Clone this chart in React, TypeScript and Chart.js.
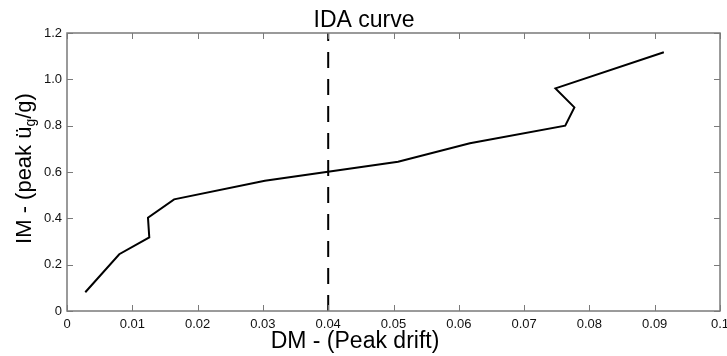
import React, { useEffect, useRef } from "react";
import { Chart, registerables } from "chart.js";

Chart.register(...registerables);

// ---- data ----
const driftValues = [0.0028, 0.008, 0.0126, 0.0124, 0.0164, 0.0303, 0.0507, 0.0617, 0.0763, 0.0777, 0.0748, 0.0914];
const imValues = [0.081, 0.245, 0.318, 0.403, 0.482, 0.562, 0.644, 0.724, 0.8, 0.879, 0.961, 1.117];
const limitDrift = 0.04;
const limitIm = [0, 1.2];

const xTickValues = [0, 0.01, 0.02, 0.03, 0.04, 0.05, 0.06, 0.07, 0.08, 0.09, 0.1];
const xTickLabels = ["0", "0.01", "0.02", "0.03", "0.04", "0.05", "0.06", "0.07", "0.08", "0.09", "0.1"];
const yTickValues = [0, 0.2, 0.4, 0.6, 0.8, 1.0, 1.2];
const yTickLabels = ["0", "0.2", "0.4", "0.6", "0.8", "1.0", "1.2"];

const chartTitle = "IDA curve";
const xTitle = "DM - (Peak drift)";
const yTitleParts = ["IM - (peak ü", "g", "/g)"];

const FONT = '"Liberation Sans", Arial, Helvetica, sans-serif';

const framePlugin = {
  id: "frame",
  afterDatasetsDraw(chart: any) {
    const { ctx, chartArea, scales } = chart;
    const { left, right, top, bottom } = chartArea;
    const x = scales.x;
    const y = scales.y;
    ctx.save();
    ctx.strokeStyle = "#7a7a7a";
    ctx.lineWidth = 1.5;
    ctx.strokeRect(left, top, right - left, bottom - top);
    ctx.lineWidth = 1;
    const L = 6;
    ctx.beginPath();
    xTickValues.forEach((v) => {
      const px = Math.round(x.getPixelForValue(v)) + 0.5;
      ctx.moveTo(px, bottom);
      ctx.lineTo(px, bottom - L);
      ctx.moveTo(px, top);
      ctx.lineTo(px, top + L);
    });
    yTickValues.forEach((v) => {
      const py = Math.round(y.getPixelForValue(v)) + 0.5;
      ctx.moveTo(left, py);
      ctx.lineTo(left + L, py);
      ctx.moveTo(right, py);
      ctx.lineTo(right - L, py);
    });
    ctx.stroke();
    ctx.restore();
  },
  afterDraw(chart: any) {
    const { ctx } = chart;
    ctx.save();
    ctx.fillStyle = "#000";
    // title
    ctx.font = `23px ${FONT}`;
    ctx.textAlign = "center";
    ctx.textBaseline = "alphabetic";
    ctx.fillText(chartTitle, 364, 27);
    // x title
    ctx.fillText(xTitle, 355, 348);
    // y title (rotated, with subscript)
    ctx.translate(31, 168.5);
    ctx.rotate(-Math.PI / 2);
    ctx.textAlign = "left";
    const big = `22px ${FONT}`;
    const small = `14px ${FONT}`;
    ctx.font = big;
    const w0 = ctx.measureText(yTitleParts[0]).width;
    const w2 = ctx.measureText(yTitleParts[2]).width;
    ctx.font = small;
    const w1 = ctx.measureText(yTitleParts[1]).width;
    let cx = -(w0 + w1 + w2) / 2;
    ctx.font = big;
    ctx.fillText(yTitleParts[0], cx, 0);
    cx += w0;
    ctx.font = small;
    ctx.fillText(yTitleParts[1], cx, 4);
    cx += w1;
    ctx.font = big;
    ctx.fillText(yTitleParts[2], cx, 0);
    ctx.restore();
  },
};

export default function App() {
  const ref = useRef<HTMLCanvasElement | null>(null);

  useEffect(() => {
    document.body.style.margin = "0";
    const canvas = ref.current;
    if (!canvas) return;
    const chart = new Chart(canvas, {
      type: "scatter",
      data: {
        datasets: [
          {
            label: "IDA",
            data: driftValues.map((d, i) => ({ x: d, y: imValues[i] })),
            showLine: true,
            borderColor: "#000",
            borderWidth: 2,
            pointRadius: 0,
            tension: 0,
            fill: false,
          },
          {
            label: "limit",
            data: limitIm.map((v) => ({ x: limitDrift, y: v })),
            showLine: true,
            borderColor: "#000",
            borderWidth: 2,
            borderDash: [16, 11],
            pointRadius: 0,
            fill: false,
          },
        ],
      },
      options: {
        animation: false,
        responsive: false,
        devicePixelRatio: 1,
        layout: { padding: { top: 33, right: 7, left: 0, bottom: 0 } },
        plugins: {
          legend: { display: false },
          tooltip: { enabled: false },
          title: { display: false },
        },
        scales: {
          x: {
            type: "linear",
            min: 0,
            max: 0.1,
            grid: { display: false, drawTicks: false },
            border: { display: false },
            afterBuildTicks: (s: any) => {
              s.ticks = xTickValues.map((v) => ({ value: v }));
            },
            afterFit: (s: any) => {
              s.height = 45;
              s.paddingLeft = 0;
              s.paddingRight = 0;
            },
            ticks: {
              autoSkip: false,
              maxRotation: 0,
              padding: 6,
              color: "#111",
              font: { family: FONT, size: 13 },
              callback: (_v: any, i: number) => xTickLabels[i],
            },
          },
          y: {
            type: "linear",
            min: 0,
            max: 1.2,
            grid: { display: false, drawTicks: false },
            border: { display: false },
            afterBuildTicks: (s: any) => {
              s.ticks = yTickValues.map((v) => ({ value: v }));
            },
            afterFit: (s: any) => {
              s.width = 67;
              s.paddingTop = 0;
              s.paddingBottom = 0;
            },
            ticks: {
              autoSkip: false,
              padding: 5,
              color: "#111",
              font: { family: FONT, size: 13 },
              callback: (_v: any, i: number) => yTickLabels[i],
            },
          },
        },
      },
      plugins: [framePlugin],
    });
    return () => chart.destroy();
  }, []);

  return <canvas ref={ref} width={727} height={356} style={{ display: "block" }} />;
}
